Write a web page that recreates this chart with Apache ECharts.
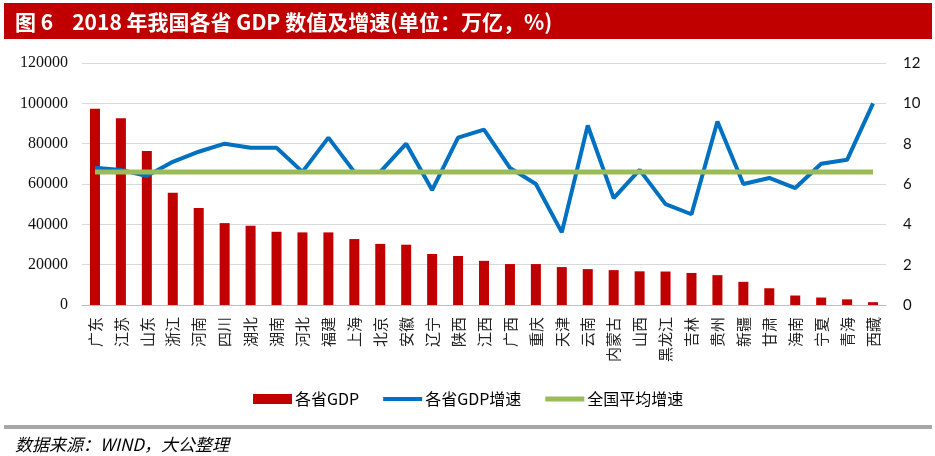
<!DOCTYPE html>
<html>
<head>
<meta charset="utf-8">
<script src="https://cdn.jsdelivr.net/npm/echarts@6/dist/echarts.min.js"></script>
<style>
html,body{margin:0;padding:0;background:#fff;}
#chart{width:935px;height:456px;}
</style>
</head>
<body>
<div id="chart"></div>
<script>
var provinces = ['广东','江苏','山东','浙江','河南','四川','湖北','湖南','河北','福建','上海','北京','安徽','辽宁','陕西','江西','广西','重庆','天津','云南','内蒙古','山西','黑龙江','吉林','贵州','新疆','甘肃','海南','宁夏','青海','西藏'];
var gdpValues = [97300,92600,76400,55600,48100,40600,39300,36300,36000,36000,32700,30300,29900,25300,24300,21900,20300,20300,18800,17800,17300,16700,16600,15900,14800,11500,8300,4700,3700,2800,1400];
var growthValues = [6.8,6.7,6.4,7.1,7.6,8.0,7.8,7.8,6.6,8.3,6.6,6.6,8.0,5.7,8.3,8.7,6.8,6.0,3.6,8.9,5.3,6.7,5.0,4.5,9.1,6.0,6.3,5.8,7.0,7.2,10.0];
var nationalAvg = 6.6;
var titleText = '图 6    2018 年我国各省 GDP 数值及增速(单位：万亿，%)';
var sourceText = '数据来源：WIND，大公整理';
var seriesNames = ['各省GDP','各省GDP增速','全国平均增速'];

var avgValues = provinces.map(function(){ return nationalAvg; });
var cjk = "'Noto Sans CJK SC',sans-serif";

var chart = echarts.init(document.getElementById('chart'), null, {renderer:'canvas'});
chart.setOption({
  animation:false,
  backgroundColor:'#ffffff',
  graphic:[
    {type:'rect', left:4, top:3, shape:{width:928, height:36}, style:{fill:'#C00000'}},
    {type:'text', x:15, y:22, style:{text:titleText, fill:'#ffffff', font:'bold 21px ' + cjk, textVerticalAlign:'middle'}},
    {type:'rect', left:4, top:425, shape:{width:928, height:4}, style:{fill:'#A6A6A6'}},
    {type:'text', x:15, y:445, style:{text:sourceText, fill:'#000000', font:'italic 17px ' + cjk, textVerticalAlign:'middle'}}
  ],
  grid:{left:82, right:49, top:63, bottom:151, containLabel:false},
  legend:{
    data:[
      {name:seriesNames[0], icon:'rect'},
      {name:seriesNames[1], icon:'path://M0,0 L40,0 L40,4 L0,4 Z'},
      {name:seriesNames[2], icon:'path://M0,0 L40,0 L40,5 L0,5 Z'}
    ],
    left:248, top:386, itemGap:24, itemWidth:39, itemHeight:10,
    textStyle:{fontSize:16, color:'#000', fontFamily:cjk, padding:[0,0,0,-2]}
  },
  xAxis:{
    type:'category', data:provinces,
    axisLine:{lineStyle:{color:'#BFBFBF', width:1}},
    axisTick:{show:false},
    axisLabel:{rotate:90, interval:0, fontSize:15, color:'#222', fontFamily:cjk, margin:12}
  },
  yAxis:[
    {type:'value', min:0, max:120000, interval:20000,
     axisLine:{show:false}, axisTick:{show:false},
     splitLine:{lineStyle:{color:'#D9D9D9', width:1}},
     axisLabel:{fontSize:16, color:'#111', fontFamily:"'Liberation Serif',serif", margin:14,
       formatter:function(v){ return String(v); }}},
    {type:'value', min:0, max:12, interval:2,
     axisLine:{show:false}, axisTick:{show:false}, splitLine:{show:false},
     axisLabel:{fontSize:15, color:'#111', fontFamily:"Lato,'Liberation Sans',sans-serif", margin:17}}
  ],
  series:[
    {name:seriesNames[0], type:'bar', data:gdpValues, barWidth:10, itemStyle:{color:'#C00000'}, yAxisIndex:0},
    {name:seriesNames[1], type:'line', data:growthValues, yAxisIndex:1, symbol:'none', lineStyle:{color:'#0070C0', width:4}, itemStyle:{color:'#0070C0'}},
    {name:seriesNames[2], type:'line', data:avgValues, yAxisIndex:1, symbol:'none', lineStyle:{color:'#9BBB59', width:5}, itemStyle:{color:'#9BBB59'}}
  ]
});
</script>
</body>
</html>
